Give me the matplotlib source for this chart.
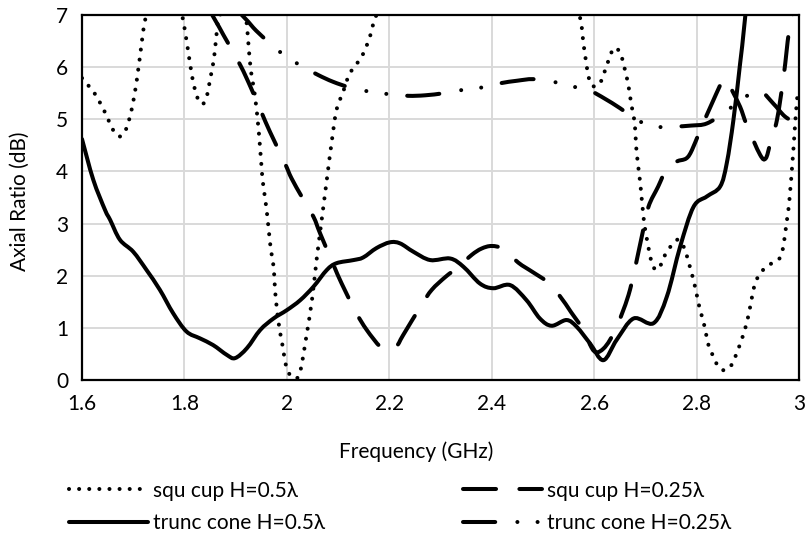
import numpy as np
import matplotlib
matplotlib.use("Agg")
import matplotlib.pyplot as plt
from matplotlib.lines import Line2D
from matplotlib.path import Path
from matplotlib.patches import PathPatch

plt.rcParams["font.family"] = ["Lato", "DejaVu Sans"]

# Axial ratio (dB) versus frequency (GHz) for four feed-cup geometries
squ05_f = [1.600, 1.625, 1.644, 1.661, 1.674, 1.686, 1.697, 1.707, 1.717, 1.723,
           1.740, 1.760, 1.780, 1.796, 1.806, 1.815, 1.824, 1.834, 1.843, 1.851,
           1.858, 1.864, 1.868, 1.890, 1.910, 1.920, 1.929, 1.938, 1.946, 1.952,
           1.957, 1.962, 1.968, 1.974, 1.978, 1.985, 1.992, 1.998, 2.006, 2.019,
           2.027, 2.037, 2.049, 2.058, 2.068, 2.078, 2.088, 2.097, 2.110, 2.123,
           2.146, 2.161, 2.172, 2.200, 2.300, 2.400, 2.500, 2.550, 2.572, 2.580,
           2.589, 2.597, 2.610, 2.618, 2.625, 2.631, 2.639, 2.651, 2.657, 2.666,
           2.672, 2.679, 2.683, 2.690, 2.697, 2.704, 2.712, 2.721, 2.732, 2.740,
           2.752, 2.764, 2.776, 2.787, 2.797, 2.805, 2.815, 2.823, 2.830, 2.838,
           2.851, 2.867, 2.882, 2.895, 2.904, 2.911, 2.917, 2.927, 2.942, 2.960,
           2.968, 2.976, 2.981, 2.989, 2.996, 3.000]
squ05_v = [5.79, 5.49, 5.15, 4.79, 4.67, 4.81, 5.19, 5.75, 6.50, 6.89,
           7.60, 7.90, 7.60, 6.97, 6.39, 5.82, 5.45, 5.29, 5.42, 5.81,
           6.19, 6.76, 6.96, 7.40, 7.30, 6.97, 6.00, 5.43, 4.67, 3.90,
           3.52, 3.13, 2.56, 2.17, 1.60, 1.02, 0.64, 0.29, 0.10, 0.03,
           0.20, 0.77, 1.53, 2.30, 3.07, 3.84, 4.60, 5.18, 5.53, 5.88,
           6.20, 6.55, 6.92, 7.60, 8.60, 9.00, 8.50, 7.60, 6.97, 6.39,
           5.82, 5.64, 5.67, 5.85, 6.04, 6.21, 6.37, 6.28, 6.07, 5.70,
           5.32, 4.93, 4.36, 3.78, 3.07, 2.65, 2.27, 2.11, 2.24, 2.43,
           2.59, 2.69, 2.53, 2.17, 1.79, 1.42, 1.05, 0.68, 0.51, 0.33,
           0.19, 0.27, 0.61, 0.99, 1.37, 1.73, 1.92, 2.08, 2.21, 2.31,
           2.49, 3.04, 3.42, 4.41, 5.37, 5.40]

squ025_f = [1.600, 1.700, 1.800, 1.856, 1.876, 1.909, 1.930, 1.951, 1.967, 1.996,
            2.009, 2.030, 2.052, 2.065, 2.091, 2.107, 2.136, 2.156, 2.182, 2.198,
            2.215, 2.227, 2.263, 2.283, 2.310, 2.335, 2.361, 2.380, 2.400, 2.423,
            2.452, 2.480, 2.507, 2.533, 2.555, 2.579, 2.595, 2.605, 2.618, 2.631,
            2.647, 2.670, 2.693, 2.706, 2.725, 2.742, 2.761, 2.780, 2.791, 2.807,
            2.833, 2.849, 2.860, 2.869, 2.885, 2.898, 2.924, 2.935, 2.944, 2.957,
            2.970, 2.983, 3.000]
squ025_v = [8.50, 8.60, 7.90, 6.97, 6.62, 6.04, 5.60, 5.12, 4.76, 4.16,
            3.87, 3.50, 3.13, 2.81, 2.21, 1.85, 1.28, 0.96, 0.64, 0.57,
            0.66, 0.86, 1.44, 1.73, 1.98, 2.17, 2.40, 2.52, 2.57, 2.51,
            2.25, 2.07, 1.89, 1.61, 1.30, 0.96, 0.62, 0.53, 0.60, 0.77,
            1.09, 1.73, 2.75, 3.32, 3.71, 4.06, 4.19, 4.25, 4.41, 4.79,
            5.37, 5.70, 5.76, 5.56, 5.24, 4.89, 4.32, 4.25, 4.54, 4.99,
            5.82, 6.84, 7.30]

cone05_f = [1.600, 1.622, 1.645, 1.655, 1.674, 1.700, 1.726, 1.752, 1.778, 1.804,
            1.830, 1.856, 1.883, 1.899, 1.922, 1.948, 1.974, 2.000, 2.026, 2.052,
            2.078, 2.097, 2.130, 2.149, 2.175, 2.201, 2.221, 2.247, 2.280, 2.319,
            2.345, 2.377, 2.403, 2.436, 2.468, 2.494, 2.517, 2.546, 2.566, 2.592,
            2.618, 2.644, 2.677, 2.716, 2.742, 2.768, 2.794, 2.820, 2.846, 2.859,
            2.872, 2.885, 2.895, 2.920, 2.950]
cone05_v = [4.62, 3.84, 3.26, 3.07, 2.69, 2.46, 2.11, 1.73, 1.28, 0.93,
            0.80, 0.67, 0.48, 0.42, 0.61, 0.96, 1.18, 1.34, 1.53, 1.79,
            2.11, 2.24, 2.30, 2.35, 2.53, 2.64, 2.62, 2.46, 2.30, 2.33,
            2.17, 1.85, 1.76, 1.82, 1.53, 1.18, 1.04, 1.15, 1.02, 0.70,
            0.38, 0.77, 1.18, 1.09, 1.60, 2.56, 3.32, 3.52, 3.71, 4.16,
            4.99, 6.07, 6.97, 9.50, 12.00]

cone025_f = [1.600, 1.750, 1.850, 1.915, 1.940, 1.967, 1.996, 2.029, 2.061, 2.090,
             2.123, 2.162, 2.201, 2.237, 2.270, 2.306, 2.341, 2.381, 2.416, 2.450,
             2.481, 2.520, 2.558, 2.595, 2.620, 2.651, 2.683, 2.719, 2.755, 2.790,
             2.820, 2.856, 2.890, 2.924, 2.950, 2.973, 3.000]
cone025_v = [9.00, 8.20, 7.60, 6.97, 6.70, 6.46, 6.22, 6.02, 5.85, 5.72,
             5.61, 5.53, 5.48, 5.45, 5.46, 5.50, 5.56, 5.61, 5.69, 5.74,
             5.77, 5.72, 5.63, 5.53, 5.40, 5.21, 4.99, 4.86, 4.86, 4.88,
             4.92, 5.14, 5.40, 5.53, 5.30, 5.05, 4.90]

labels = ["squ cup H=0.5\u03bb", "squ cup H=0.25\u03bb",
          "trunc cone H=0.5\u03bb", "trunc cone H=0.25\u03bb"]
xticks = [1.6, 1.8, 2.0, 2.2, 2.4, 2.6, 2.8, 3.0]
xticklabels = ["1.6", "1.8", "2", "2.2", "2.4", "2.6", "2.8", "3"]
yticks = [0, 1, 2, 3, 4, 5, 6, 7]

FS = 15
LW = 2.9
styles = {
    "dotted": (0, (0.01, 2.5)),
    "longdash": (0, (8.2, 5.8)),
    "solid": "-",
    "dashdotdot": (0, (8.0, 5.5, 0.01, 5.0, 0.01, 5.2)),
}


def smooth_curve(xs, ys):
    """Smoothed line through the points (cubic Bezier, Catmull-Rom tangents)."""
    pts = np.column_stack([xs, ys]).astype(float)
    n = len(pts)
    verts = [pts[0]]
    codes = [Path.MOVETO]
    for i in range(n - 1):
        p0 = pts[i - 1] if i > 0 else pts[i]
        p1, p2 = pts[i], pts[i + 1]
        p3 = pts[i + 2] if i + 2 < n else pts[i + 1]
        verts += [p1 + (p2 - p0) / 6.0, p2 - (p3 - p1) / 6.0, p2]
        codes += [Path.CURVE4] * 3
    return Path(verts, codes)


fig = plt.figure(figsize=(8.06, 5.36), dpi=100)
ax = fig.add_axes([82 / 806, 1 - 380 / 536, 717 / 806, 365 / 536])

series = [(squ05_f, squ05_v, "dotted"),
          (squ025_f, squ025_v, "longdash"),
          (cone05_f, cone05_v, "solid"),
          (cone025_f, cone025_v, "dashdotdot")]
handles = []
for xs, ys, st in series:
    patch = PathPatch(smooth_curve(xs, ys), transform=ax.transData, fill=False,
                      edgecolor="black", linewidth=LW, linestyle=styles[st],
                      capstyle="round", joinstyle="round", zorder=3)
    ax.add_patch(patch)
    handles.append(Line2D([], [], color="black", linewidth=LW,
                          linestyle=styles[st], dash_capstyle="round",
                          solid_capstyle="round"))

ax.set_xlim(1.6, 3.0)
ax.set_ylim(0, 7)
ax.set_xticks(xticks)
ax.set_xticklabels(xticklabels)
ax.set_yticks(yticks)
ax.tick_params(axis="both", length=0, labelsize=FS)
ax.tick_params(axis="x", pad=10)
ax.tick_params(axis="y", pad=10)
ax.grid(True, color="#d9d9d9", linewidth=1.4)
ax.set_axisbelow(True)
for sp in ax.spines.values():
    sp.set_linewidth(1.6)
    sp.set_color("black")
    sp.set_zorder(4)

ax.set_xlabel("Frequency (GHz)", fontsize=FS)
ax.xaxis.label.set_va("center")
ax.xaxis.set_label_coords(0.466, -(452 - 380) / 365)
ax.set_ylabel("Axial Ratio (dB)", fontsize=FS)
ax.yaxis.label.set_va("center")
ax.yaxis.set_label_coords((20 - 82) / 717, 0.49)

h1, h2, h3, h4 = handles
fig.legend([h1, h3, h2, h4], [labels[0], labels[2], labels[1], labels[3]],
           ncol=2, loc="upper left", bbox_to_anchor=(54 / 806, 1 - 466 / 536),
           frameon=False, fontsize=FS, handlelength=3.8, handletextpad=0.25,
           columnspacing=6.6, labelspacing=0.6, borderpad=0.2)

fig.savefig("out.png", dpi=100)
